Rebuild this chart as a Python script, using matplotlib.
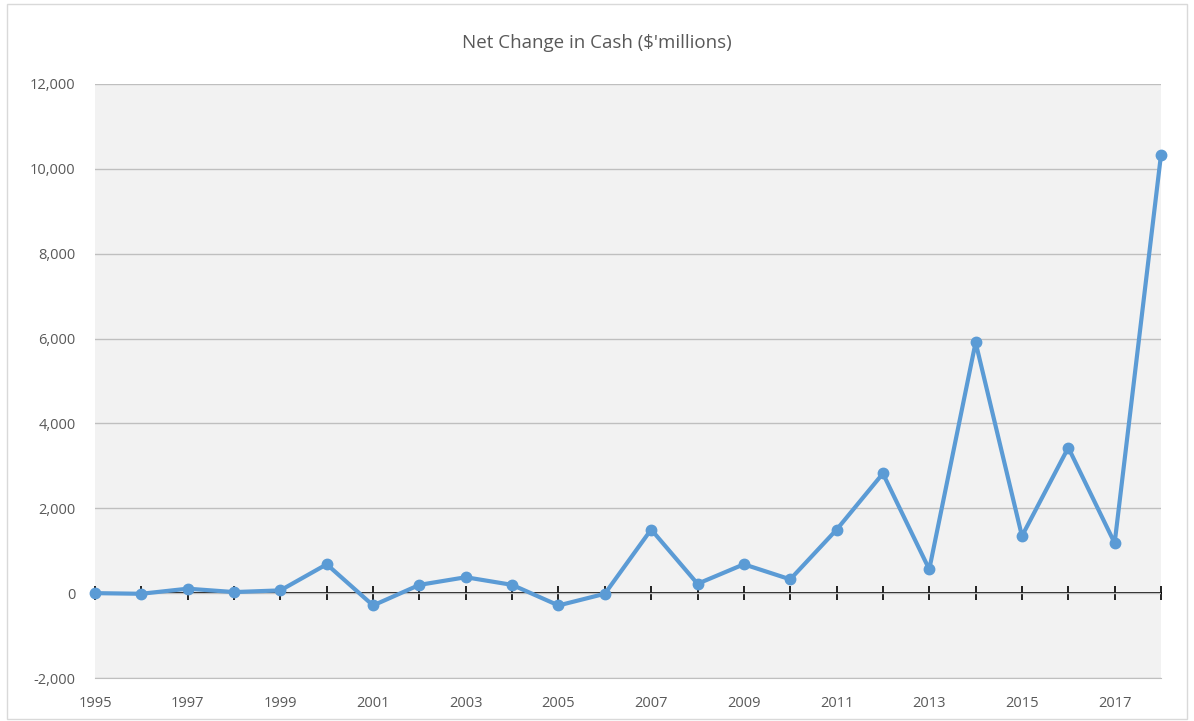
import matplotlib
matplotlib.use("Agg")
import matplotlib.pyplot as plt
from matplotlib.patches import Rectangle
from matplotlib.ticker import FuncFormatter

# Net change in cash, $ millions
years = list(range(1995, 2019))
net_change = [0, -15, 105, 25, 65, 680, -290, 195, 375, 195, -290, -15,
              1500, 220, 680, 325, 1495, 2820, 560, 5910, 1345, 3430, 1180, 10330]

y_ticks = [-2000, 0, 2000, 4000, 6000, 8000, 10000, 12000]
x_labels = list(range(1995, 2018, 2))

plt.rcParams["font.family"] = ["Open Sans", "DejaVu Sans"]
txt_color = "#595959"

fig = plt.figure(figsize=(11.94, 7.21), dpi=100)
ax = fig.add_axes([95 / 1194, 1 - 678 / 721, (1161 - 95) / 1194, (678 - 84) / 721])
ax.set_facecolor("#f2f2f2")

# outer chart border
fig.patches.append(Rectangle((7 / 1194, 2 / 721), 1180 / 1194, 715 / 721,
                             transform=fig.transFigure, fill=False,
                             edgecolor="#d9d9d9", linewidth=1))

ax.plot(years, net_change, color="#5b9bd5", linewidth=3, marker="o",
        markersize=7.5, zorder=4, clip_on=False)

ax.set_xlim(1995, 2018)
ax.set_ylim(-2000, 12000)
ax.set_yticks(y_ticks)
ax.yaxis.set_major_formatter(FuncFormatter(lambda v, p: f"{int(v):,}"))
ax.yaxis.grid(True, color="#bfbfbf", linewidth=1)
ax.set_axisbelow(True)
ax.tick_params(axis="y", length=0, pad=14, labelsize=10.5, labelcolor=txt_color)

ax.set_xticks(x_labels)
ax.set_xticklabels([str(y) for y in x_labels])
ax.tick_params(axis="x", length=0, pad=13, labelsize=10.5, labelcolor=txt_color)

for s in ["left", "right", "top"]:
    ax.spines[s].set_visible(False)
ax.spines["bottom"].set_color("#bfbfbf")

# black zero axis with tick marks at every year
zero_frac = (0 - (-2000)) / (12000 - (-2000))
sec = ax.secondary_xaxis(zero_frac)
sec.set_xticks(years)
sec.tick_params(axis="x", direction="inout", length=10, width=1.2,
                color="black", labelbottom=False, labeltop=False)
sec.spines["bottom"].set_color("black")
sec.spines["top"].set_color("black")
sec.spines["bottom"].set_linewidth(1.3)
sec.spines["top"].set_linewidth(1.3)

fig.text(0.5, 1 - 43 / 721, "Net Change in Cash ($'millions)", ha="center",
         va="center", fontsize=13.5, color=txt_color)

fig.savefig("out.png", dpi=100)
